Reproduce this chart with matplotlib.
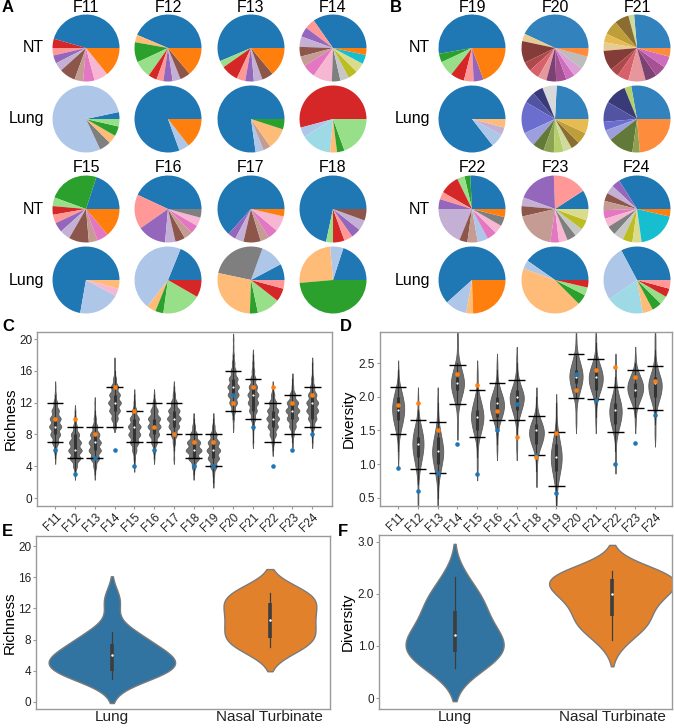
import numpy as np
import matplotlib
matplotlib.use('Agg')
import matplotlib.pyplot as plt

plt.rcParams['font.family'] = ['Liberation Sans', 'DejaVu Sans']

# ---------------- data ----------------
ferrets = ['F11', 'F12', 'F13', 'F14', 'F15', 'F16', 'F17',
           'F18', 'F19', 'F20', 'F21', 'F22', 'F23', 'F24']

# observed values (dots in C/D, data for E/F)
nt_richness = [10, 10, 8, 14, 11, 9, 8, 7, 7, 12, 14, 14, 12, 13]
lung_richness = [6, 3, 5, 6, 4, 6, 8, 4, 4, 13, 9, 4, 6, 8]
nt_diversity = [1.88, 1.91, 1.50, 2.33, 2.17, 1.79, 1.40, 1.11, 1.46, 2.10, 2.40, 2.44, 2.29, 2.24]
lung_diversity = [0.94, 0.60, 0.87, 1.30, 0.85, 1.51, 1.89, 1.13, 0.57, 2.33, 1.95, 1.01, 1.31, 1.73]

# interval bars in C/D
rich_ci_hi = [12, 9, 9, 14, 11, 12, 12, 8, 8, 16, 15, 12, 13, 14]
rich_ci_lo = [7, 5, 5, 9, 7, 7, 8, 5, 4, 11, 10, 7, 8, 9]
div_ci_hi = [2.14, 1.66, 1.62, 2.47, 2.10, 2.21, 2.25, 1.72, 1.47, 2.63, 2.56, 2.15, 2.39, 2.45]
div_ci_lo = [1.45, 0.93, 0.87, 1.89, 1.40, 1.65, 1.66, 1.14, 0.68, 1.98, 1.96, 1.48, 1.83, 1.80]

# simulated richness distributions: counts at integer richness starting at rich_start
rich_start = [5, 3, 3, 9, 4, 5, 5, 3, 2, 9, 7, 6, 7, 7]
rich_counts = [
    [1, 4, 10, 16, 20, 18, 12, 6, 2, 1],
    [1, 5, 14, 18, 16, 11, 5, 2, 1],
    [1, 4, 12, 17, 17, 13, 7, 3, 1, 1],
    [4, 9, 15, 18, 15, 10, 4, 1, 1],
    [1, 2, 6, 12, 17, 18, 13, 6, 2, 1],
    [1, 3, 8, 14, 18, 17, 10, 4, 1],
    [1, 1, 3, 8, 14, 18, 15, 8, 3, 1],
    [1, 4, 12, 18, 15, 8, 3, 1],
    [1, 2, 8, 14, 17, 14, 8, 3, 1],
    [1, 2, 6, 12, 17, 18, 14, 8, 4, 2, 1, 1],
    [1, 1, 3, 7, 12, 16, 17, 13, 8, 4, 2, 1],
    [1, 3, 8, 13, 16, 14, 9, 4, 1],
    [1, 3, 8, 14, 17, 14, 7, 2, 1],
    [1, 2, 6, 12, 17, 17, 12, 6, 3, 1, 1],
]

# simulated diversity distributions: counts in 0.1 bins starting at div_start
div_start = [1.1, 0.4, 0.4, 1.5, 0.9, 1.2, 1.2, 0.8, 0.4, 1.6, 1.6, 1.0, 1.6, 1.4]
div_counts = [
    [1, 1, 1, 3, 6, 10, 13, 15, 14, 11, 7, 3, 1, 1],
    [1, 1, 1, 1, 2, 4, 7, 10, 13, 14, 13, 10, 6, 3, 1, 1, 1],
    [1, 1, 1, 2, 4, 7, 10, 13, 14, 12, 9, 6, 3, 2, 1, 1, 1],
    [1, 1, 1, 2, 5, 9, 13, 15, 13, 9, 5, 2, 1, 1, 1],
    [1, 1, 1, 1, 2, 5, 9, 12, 14, 12, 9, 5, 2, 1, 1, 1],
    [1, 1, 1, 2, 5, 10, 14, 15, 12, 7, 3, 1, 1, 1],
    [1, 1, 1, 1, 2, 5, 9, 13, 15, 11, 6, 3, 1, 1, 1],
    [1, 1, 1, 2, 5, 10, 14, 15, 11, 6, 2, 1, 1],
    [1, 1, 2, 4, 7, 10, 13, 14, 13, 10, 7, 4, 2, 1, 1, 1],
    [1, 1, 1, 2, 5, 9, 13, 15, 13, 9, 5, 2, 1, 1],
    [1, 1, 1, 2, 5, 10, 14, 15, 12, 7, 3, 1, 1, 1],
    [1, 1, 1, 1, 3, 6, 10, 13, 14, 12, 8, 4, 2, 1, 1, 1],
    [1, 1, 2, 6, 11, 15, 14, 9, 4, 1, 1],
    [1, 1, 1, 1, 3, 6, 11, 14, 15, 11, 6, 3, 1, 1, 1, 1],
]

# pie colours
C = {'b': '#1f77b4', 'lb': '#aec7e8', 'o': '#ff7f0e', 'lo': '#ffbb78', 'g': '#2ca02c',
     'lg': '#98df8a', 'r': '#d62728', 'lr': '#ff9896', 'p': '#9467bd', 'lp': '#c5b0d5',
     'br': '#8c564b', 'lbr': '#c49c94', 'pk': '#e377c2', 'lpk': '#f7b6d2', 'gy': '#7f7f7f',
     'lgy': '#c7c7c7', 'ol': '#bcbd22', 'lol': '#dbdb8d', 'cy': '#17becf', 'lcy': '#9edae5',
     'cb': '#3182bd', 'co': '#fd8d3c', 'cg1': '#bdbdbd', 'cg2': '#d9d9d9',
     'n1': '#393b79', 'n2': '#5254a3', 'n3': '#6b6ecf', 'n4': '#9c9ede',
     'v1': '#637939', 'v2': '#8ca252', 'v3': '#b5cf6b', 'v4': '#cedb9c',
     'y1': '#8c6d31', 'y2': '#bd9e39', 'y3': '#e7ba52', 'y4': '#e7cb94',
     'm1': '#843c39', 'm2': '#ad494a', 'm3': '#d6616b', 'm4': '#e7969c',
     'q1': '#7b4173', 'q2': '#a55194', 'q3': '#ce6dbd', 'q4': '#de9ed6'}

# relative abundances (wedge sizes) and colours, counter-clockwise from 3 o'clock
pie_nt_sizes = {
    'F11': [164, 16, 13, 14, 15, 28, 15, 20, 24, 51],
    'F12': [157, 13, 35, 30, 15, 12, 16, 14, 18, 50],
    'F13': [203, 12, 30, 15, 15, 15, 20, 50],
    'F14': [125, 18, 17, 18, 17, 17, 23, 33, 15, 15, 17, 17, 16, 12],
    'F15': [72, 88, 15, 15, 15, 17, 18, 35, 15, 20, 50],
    'F16': [155, 60, 50, 18, 17, 15, 15, 15, 15],
    'F17': [228, 14, 15, 30, 15, 18, 27, 13],
    'F18': [258, 12, 20, 15, 17, 18, 20],
    'F19': [190, 15, 27, 24, 17, 17, 70],
    'F20': [155, 13, 38, 16, 18, 15, 17, 18, 15, 17, 23, 15],
    'F21': [95, 10, 25, 25, 15, 15, 35, 15, 20, 30, 20, 20, 20, 15],
    'F22': [93, 10, 13, 34, 13, 17, 68, 14, 18, 18, 17, 15, 16, 14],
    'F23': [33, 59, 68, 15, 18, 69, 15, 15, 16, 15, 17, 20],
    'F24': [122, 15, 15, 14, 16, 15, 15, 16, 17, 17, 16, 69, 13],
}
pie_nt_colors = {
    'F11': ['b', 'r', 'lr', 'p', 'lp', 'br', 'lbr', 'pk', 'lpk', 'o'],
    'F12': ['b', 'lo', 'g', 'lg', 'r', 'lr', 'p', 'lp', 'br', 'o'],
    'F13': ['b', 'lg', 'r', 'lr', 'p', 'lp', 'br', 'o'],
    'F14': ['b', 'lr', 'p', 'lp', 'br', 'lbr', 'pk', 'lpk', 'gy', 'lgy', 'ol', 'lol', 'cy', 'o'],
    'F15': ['b', 'g', 'lg', 'r', 'lr', 'p', 'lp', 'br', 'lbr', 'pk', 'o'],
    'F16': ['b', 'lr', 'p', 'lp', 'br', 'lbr', 'pk', 'lpk', 'gy'],
    'F17': ['b', 'p', 'lp', 'br', 'lbr', 'pk', 'lpk', 'o'],
    'F18': ['b', 'lg', 'r', 'lr', 'p', 'lp', 'br'],
    'F19': ['b', 'g', 'lg', 'r', 'lr', 'p', 'o'],
    'F20': ['cb', 'y4', 'm1', 'm2', 'm3', 'm4', 'q1', 'q2', 'q3', 'q4', 'cg1', 'co'],
    'F21': ['cb', 'v4', 'y1', 'y2', 'y3', 'y4', 'm1', 'm2', 'm3', 'm4', 'q1', 'q2', 'q3', 'co'],
    'F22': ['b', 'g', 'lg', 'r', 'lr', 'p', 'lp', 'br', 'lbr', 'lb', 'pk', 'lpk', 'gy', 'o'],
    'F23': ['b', 'lr', 'p', 'lp', 'br', 'lbr', 'pk', 'lpk', 'gy', 'lgy', 'ol', 'lol'],
    'F24': ['b', 'p', 'lp', 'br', 'lbr', 'pk', 'lpk', 'gy', 'lgy', 'ol', 'lol', 'cy', 'o'],
}
pie_lung_sizes = {
    'F11': [12, 283, 20, 15, 17, 13],
    'F12': [290, 18, 52],
    'F13': [278, 14, 13, 37, 18],
    'F14': [195, 17, 53, 12, 13, 70],
    'F15': [260, 72, 13, 15],
    'F16': [68, 164, 16, 14, 68, 30],
    'F17': [28, 42, 98, 100, 14, 40, 23, 15],
    'F18': [72, 23, 90, 175],
    'F19': [308, 24, 13, 15],
    'F20': [87, 25, 18, 20, 55, 25, 20, 18, 17, 15, 15, 20, 25],
    'F21': [100, 12, 38, 35, 15, 18, 44, 13, 85],
    'F22': [222, 38, 12, 88],
    'F23': [145, 15, 155, 18, 14, 13],
    'F24': [118, 97, 65, 18, 17, 15, 15, 15],
}
pie_lung_colors = {
    'F11': ['b', 'lb', 'gy', 'lo', 'g', 'lg'],
    'F12': ['b', 'lb', 'o'],
    'F13': ['b', 'lb', 'lbr', 'lo', 'g'],
    'F14': ['r', 'lb', 'lcy', 'lo', 'g', 'lg'],
    'F15': ['b', 'lb', 'lpk', 'lo'],
    'F16': ['b', 'lb', 'lo', 'g', 'lg', 'r'],
    'F17': ['b', 'lb', 'gy', 'lo', 'g', 'lg', 'r', 'lr'],
    'F18': ['b', 'lb', 'lo', 'g'],
    'F19': ['b', 'lb', 'lp', 'lo'],
    'F20': ['cb', 'cg2', 'n1', 'n2', 'n3', 'n4', 'v1', 'v2', 'v3', 'v4', 'y1', 'y2', 'y3'],
    'F21': ['cb', 'v3', 'n1', 'n2', 'n3', 'n4', 'v1', 'v2', 'co'],
    'F22': ['b', 'lb', 'lo', 'o'],
    'F23': ['b', 'lb', 'lo', 'g', 'lg', 'r'],
    'F24': ['b', 'lb', 'lcy', 'lo', 'g', 'lg', 'r', 'lr'],
}

# ---------------- figure ----------------
W, H = 674, 728
fig = plt.figure(figsize=(W / 100, H / 100), dpi=100)


def px_axes(x0, y0, x1, y1):
    return fig.add_axes([x0 / W, 1 - y1 / H, (x1 - x0) / W, (y1 - y0) / H])


def ftext(x, y, s, **kw):
    fig.text(x / W, 1 - y / H, s, **kw)


R = 33.5


def draw_pie(cx, cy, sizes, cols):
    ax = px_axes(cx - R, cy - R, cx + R, cy + R)
    ax.pie(sizes, colors=[C[c] for c in cols], startangle=0, counterclock=True,
           wedgeprops=dict(linewidth=0))
    ax.set_xlim(-1, 1)
    ax.set_ylim(-1, 1)
    ax.set_aspect('equal')
    ax.axis('off')


blocks = [
    (['F11', 'F12', 'F13', 'F14'], [86, 168, 251, 333], 8, 48, 119, 44),
    (['F15', 'F16', 'F17', 'F18'], [86, 168, 251, 333], 167, 209, 280, 44),
    (['F19', 'F20', 'F21'], [472, 555, 637], 8, 48, 119, 430),
    (['F22', 'F23', 'F24'], [472, 555, 637], 167, 209, 280, 430),
]
for names, xs, ty, ynt, ylung, lx in blocks:
    for nm, x in zip(names, xs):
        ftext(x, ty, nm, ha='center', va='center', fontsize=11.5)
        draw_pie(x, ynt, pie_nt_sizes[nm], pie_nt_colors[nm])
        draw_pie(x, ylung, pie_lung_sizes[nm], pie_lung_colors[nm])
    ftext(lx, ynt, 'NT', ha='right', va='center', fontsize=11.5)
    ftext(lx, ylung, 'Lung', ha='right', va='center', fontsize=11.5)

for lab, x, y in [('A', 2, 8), ('B', 390, 8), ('C', 2, 327), ('D', 340, 327),
                  ('E', 2, 532), ('F', 338, 532)]:
    ftext(x, y, lab, ha='left', va='center', fontsize=12, fontweight='bold')

SPINE = '#9a9a9a'


def style_axes(ax):
    for s in ax.spines.values():
        s.set_color(SPINE)
        s.set_linewidth(1.0)
    ax.tick_params(color=SPINE, length=2.5, width=0.8, labelsize=8.5, labelcolor='#222222', pad=1)


def kde_curve(vals, wts, bw, cut=2.0, n=300):
    vals = np.asarray(vals, float)
    wts = np.asarray(wts, float)
    grid = np.linspace(vals.min() - cut * bw, vals.max() + cut * bw, n)
    dens = (wts[None, :] * np.exp(-0.5 * ((grid[:, None] - vals[None, :]) / bw) ** 2)).sum(1)
    dens /= wts.sum() * bw * np.sqrt(2 * np.pi)
    return grid, dens


def small_violins(ax, starts, counts, step, bw, hi, lo):
    curves = []
    for st, cn in zip(starts, counts):
        vals = np.round(st + step * np.arange(len(cn)), 3)
        g, d = kde_curve(vals, cn, bw)
        curves.append((vals, cn, g, d))
    dmax = max(c[3].max() for c in curves)
    for i, (vals, cn, g, d) in enumerate(curves):
        hw = d / dmax * 0.4
        ax.fill_betweenx(g, i - hw, i + hw, facecolor='#707070', edgecolor='#5a5a5a',
                         linewidth=0.6, zorder=2)
        samp = np.repeat(vals, cn)
        q1, med, q3 = np.percentile(samp, [25, 50, 75])
        iqr = q3 - q1
        wlo = samp[samp >= q1 - 1.5 * iqr].min()
        whi = samp[samp <= q3 + 1.5 * iqr].max()
        ax.plot([i, i], [wlo, whi], color='#333333', lw=0.8, zorder=3)
        ax.plot([i, i], [q1, q3], color='#333333', lw=2.2, zorder=3, solid_capstyle='butt')
        ax.plot([i], [med], 'o', color='white', ms=1.6, mec='none', zorder=4)
    x = np.arange(len(counts))
    ax.hlines(hi, x - 0.42, x + 0.42, color='black', lw=1.0, zorder=5)
    ax.hlines(lo, x - 0.42, x + 0.42, color='black', lw=1.0, zorder=5)


# ---- C ----
axC = px_axes(37, 332, 332, 506)
small_violins(axC, rich_start, rich_counts, 1.0, 0.35, rich_ci_hi, rich_ci_lo)
xpos = np.arange(len(ferrets))
axC.plot(xpos, lung_richness, 'o', color='#1f77b4', ms=3.3, mec='none', zorder=6)
axC.plot(xpos, nt_richness, 'o', color='#ff7f0e', ms=3.3, mec='none', zorder=7)
axC.set_xlim(-0.92, 14.0)
axC.set_ylim(-1.0, 20.9)
axC.set_yticks([0, 4, 8, 12, 16, 20])
axC.set_xticks(xpos)
axC.set_xticklabels(ferrets, rotation=45, ha='right', rotation_mode='anchor', fontsize=9)
axC.set_ylabel('Richness', fontsize=11, labelpad=1)
style_axes(axC)

# ---- D ----
axD = px_axes(380, 332, 672, 506)
small_violins(axD, div_start, div_counts, 0.1, 0.07, div_ci_hi, div_ci_lo)
axD.plot(xpos, lung_diversity, 'o', color='#1f77b4', ms=3.3, mec='none', zorder=6)
axD.plot(xpos, nt_diversity, 'o', color='#ff7f0e', ms=3.3, mec='none', zorder=7)
axD.set_xlim(-0.92, 13.86)
axD.set_ylim(0.38, 2.96)
axD.set_yticks([0.5, 1.0, 1.5, 2.0, 2.5])
axD.set_yticklabels(['0.5', '1.0', '1.5', '2.0', '2.5'])
axD.set_xticks(xpos)
axD.set_xticklabels(ferrets, rotation=45, ha='right', rotation_mode='anchor', fontsize=9)
axD.set_ylabel('Diversity', fontsize=11, labelpad=2)
style_axes(axD)


# ---- E / F ----
def big_violins(ax, groups, colors):
    curves = []
    for data in groups:
        data = np.asarray(data, float)
        bw = len(data) ** (-1 / 5) * data.std(ddof=1)
        g, d = kde_curve(data, np.ones(len(data)), bw, cut=2.0, n=200)
        curves.append((data, g, d))
    dmax = max(c[2].max() for c in curves)
    for i, ((data, g, d), col) in enumerate(zip(curves, colors)):
        hw = d / dmax * 0.4
        ax.fill_betweenx(g, i - hw, i + hw, facecolor=col, edgecolor='#7a7a7a',
                         linewidth=1.0, zorder=2)
        q1, med, q3 = np.percentile(data, [25, 50, 75])
        iqr = q3 - q1
        wlo = data[data >= q1 - 1.5 * iqr].min()
        whi = data[data <= q3 + 1.5 * iqr].max()
        ax.plot([i, i], [wlo, whi], color='#3d3d3d', lw=0.9, zorder=3)
        ax.plot([i, i], [q1, q3], color='#3d3d3d', lw=2.6, zorder=3, solid_capstyle='butt')
        ax.plot([i], [med], 'o', color='white', ms=1.8, mec='none', zorder=4)
    ax.set_xticks([0, 1])
    ax.set_xticklabels(['Lung', 'Nasal Turbinate'])


VCOL = ['#3274a1', '#e1812c']
axE = px_axes(36, 536, 330, 709)
big_violins(axE, [lung_richness, nt_richness], VCOL)
axE.set_xlim(-0.48, 1.38)
axE.set_ylim(-0.9, 21.3)
axE.set_yticks([0, 4, 8, 12, 16, 20])
axE.set_ylabel('Richness', fontsize=11, labelpad=1)
style_axes(axE)
axE.tick_params(axis='x', labelsize=11, length=0, pad=1)

axF = px_axes(379, 535, 672, 709)
big_violins(axF, [lung_diversity, nt_diversity], VCOL)
axF.set_xlim(-0.48, 1.38)
axF.set_ylim(-0.21, 3.13)
axF.set_yticks([0, 1, 2, 3])
axF.set_yticklabels(['0', '1.0', '2.0', '3.0'])
axF.set_ylabel('Diversity', fontsize=11, labelpad=2)
style_axes(axF)
axF.tick_params(axis='x', labelsize=11, length=0, pad=1)

fig.savefig('out.png', dpi=100)
